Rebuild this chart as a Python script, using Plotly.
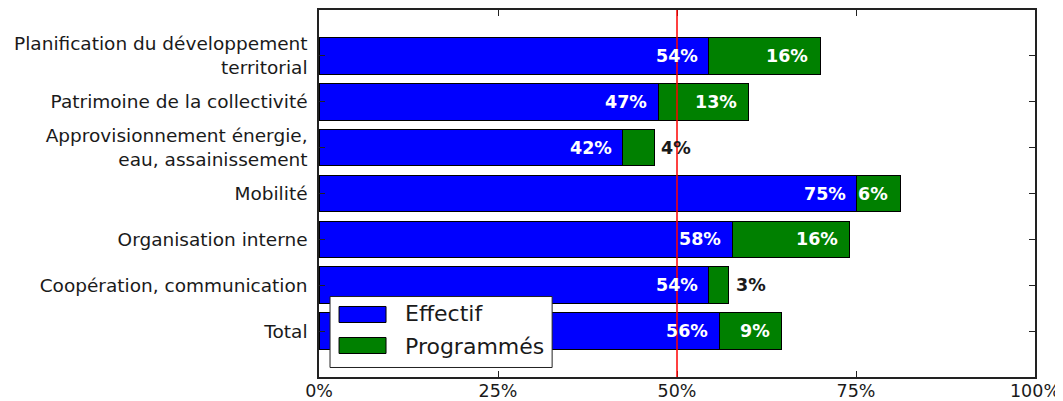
import plotly.graph_objects as go

categories = [
    "Planification du développement<br>territorial",
    "Patrimoine de la collectivité",
    "Approvisionnement énergie,<br>eau, assainissement",
    "Mobilité",
    "Organisation interne",
    "Coopération, communication",
    "Total",
]
effectif = [54.4, 47.4, 42.4, 75.1, 57.7, 54.4, 55.9]
programmes = [15.6, 12.6, 4.4, 6.1, 16.4, 2.8, 8.7]
series_names = ["Effectif", "Programmés"]
series_colors = ["#0000ff", "#008000"]
x_ticks = [0, 25, 50, 75, 100]
x_tick_labels = ["0%", "25%", "50%", "75%", "100%"]
reference_line = 50

FONT = "DejaVu Sans"
TXT = "#1a1a1a"

fig = go.Figure()
for name, vals, col in zip(series_names, [effectif, programmes], series_colors):
    fig.add_trace(go.Bar(
        y=categories, x=vals, orientation="h", name=name,
        marker=dict(color=col, line=dict(color="black", width=1)),
        width=0.8, showlegend=False,
    ))

annotations = []
for cat, e, p in zip(categories, effectif, programmes):
    annotations.append(dict(
        x=e, y=cat, xref="x", yref="y", text=f"{round(e)}%", showarrow=False,
        xanchor="right", xshift=-9,
        font=dict(family=FONT, size=17.5, color="white", weight="bold"),
    ))
    if p >= 5:
        annotations.append(dict(
            x=e + p, y=cat, xref="x", yref="y", text=f"{round(p)}%", showarrow=False,
            xanchor="right", xshift=-10,
            font=dict(family=FONT, size=17.5, color="white", weight="bold"),
        ))
    else:
        annotations.append(dict(
            x=e + p, y=cat, xref="x", yref="y", text=f"{round(p)}%", showarrow=False,
            xanchor="left", xshift=5,
            font=dict(family=FONT, size=17.5, color=TXT, weight="bold"),
        ))

shapes = [
    dict(type="line", x0=reference_line, x1=reference_line, y0=0, y1=1,
         xref="x", yref="paper", line=dict(color="red", width=1.5)),
    # legend box
    dict(type="rect", xref="paper", yref="paper", x0=0.0154, x1=0.3256,
         y0=0.0259, y1=0.2193, fillcolor="white", line=dict(color="#222222", width=1)),
]
legend_rows = [(0.1485, 0.1921, 0.173), (0.0640, 0.1076, 0.0831)]
for (y0, y1, yt), name, col in zip(legend_rows, series_names, series_colors):
    shapes.append(dict(type="rect", xref="paper", yref="paper", x0=0.028, x1=0.0936,
                       y0=y0, y1=y1, fillcolor=col, line=dict(color="black", width=1)))
    annotations.append(dict(x=0.1174, y=yt, xref="paper", yref="paper", text=name,
                            showarrow=False, xanchor="left", yanchor="middle",
                            font=dict(family=FONT, size=22, color=TXT)))

fig.update_layout(
    width=1063, height=401,
    margin=dict(l=311, r=36, t=2, b=32),
    barmode="stack",
    plot_bgcolor="white", paper_bgcolor="white",
    font=dict(family=FONT, size=18, color=TXT),
    annotations=annotations,
    shapes=shapes,
    showlegend=False,
    xaxis=dict(
        range=[0, 100], tickvals=x_ticks, ticktext=x_tick_labels,
        showgrid=False, zeroline=False, automargin=False,
        showline=True, linecolor="#222222", linewidth=1.5, mirror="ticks",
        ticks="inside", ticklen=6, tickcolor="#222222",
        tickfont=dict(family=FONT, size=17.5, color=TXT),
        ticklabelstandoff=-3,
    ),
    yaxis=dict(
        type="category", categoryorder="array", categoryarray=categories,
        range=[7, -1], automargin=False,
        showgrid=False, zeroline=False,
        showline=True, linecolor="#222222", linewidth=1.5, mirror="ticks",
        ticks="inside", ticklen=6, tickcolor="#222222",
        tickfont=dict(family=FONT, size=18.5, color=TXT),
        ticklabelstandoff=6,
    ),
)

fig.write_html("out.html")
